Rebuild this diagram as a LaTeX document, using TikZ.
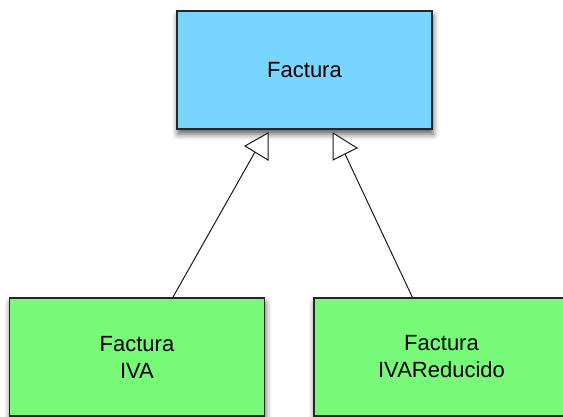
\documentclass[tikz,border=0pt]{standalone}
\usepackage{fontspec}
\setmainfont{Liberation Sans}
\usepackage{xcolor}
\usepackage{tikz}
\usetikzlibrary{calc, shadows.blur}
\definecolor{clsblue}{RGB}{119,213,255}
\definecolor{clsgreen}{RGB}{118,250,120}
\tikzset{every node/.append style={font=\fontsize{22}{27}\selectfont}}
\tikzset{
    clsbox/.style={draw=black!85, line width=1.3pt, minimum width=255pt, minimum height=118pt,
        inner sep=0pt, align=center,
        blur shadow={shadow xshift=1pt, shadow yshift=-5pt, shadow blur radius=6pt, shadow opacity=65}},
    inherit/.style={draw=black!90, line width=1pt}
}

\begin{document}
\begin{tikzpicture}[x=1pt, y=-1pt]
    \clip (0,0) rectangle (563,416);
    \node[clsbox, fill=clsblue] (factura) at (304.5,70) {Factura};
    \node[clsbox, fill=clsgreen] (iva) at (137,357) {Factura\\IVA};
    \node[clsbox, fill=clsgreen] (reducido) at (441.5,357) {Factura\\IVAReducido};
    % open triangles below factura
    \coordinate (triL) at (268,146);
    \coordinate (triR) at (333,146);
    \draw[inherit, fill=white] ($(triL)+(0,-13)$) -- ($(triL)+(-23,0)$) -- ($(triL)+(0,14)$) -- cycle;
    \draw[inherit, fill=white] ($(triR)+(0,-13)$) -- ($(triR)+(24,2)$) -- ($(triR)+(0,14)$) -- cycle;
    \coordinate (hitL) at (255,152);
    \coordinate (hitR) at (345,154);
    \draw[inherit] (iva.59.3) -- (hitL);
    \draw[inherit] (reducido.116.6) -- (hitR);
\end{tikzpicture}
\end{document}
